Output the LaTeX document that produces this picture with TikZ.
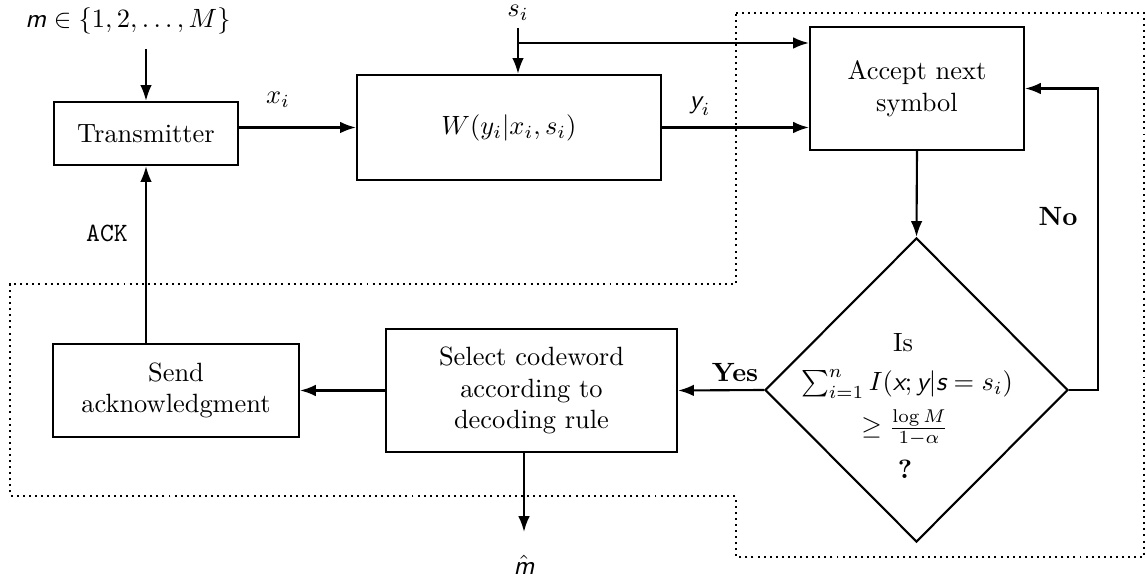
\documentclass[tikz,border=0pt]{standalone}
\usepackage{amsmath}
\usetikzlibrary{arrows.meta,shapes.geometric}
\newcommand\sfv[1]{\text{\sffamily\itshape #1}}
\begin{document}
\begin{tikzpicture}[x=0.3786pt,y=-0.3786pt,
  blk/.style={draw,thick,rectangle,align=center,inner sep=0pt},
  arr/.style={thick,-{Latex[length=6pt,width=4.4pt]}},
  region/.style={line width=0.75pt,dash pattern=on 0.75pt off 1.55pt},
  lbl/.style={inner sep=0pt}]
\useasboundingbox (0,0) rectangle (1146,582);
% dotted region
\draw[region] (736,13) -- (1144,13) -- (1144,557) -- (736,557) -- (736,496) -- (10,496) -- (10,284) -- (736,284) -- cycle;
% blocks
\node[blk,minimum width=69.7pt,minimum height=23.9pt] (tx) at (146,133.5) {Transmitter};
\node[blk,minimum width=115.1pt,minimum height=39.8pt] (w) at (509,127.5) {$W(y_i|x_i,s_i)$};
\node[blk,minimum width=81.0pt,minimum height=46.6pt] (acc) at (917,88.5) {Accept next\\symbol};
\node[draw,thick,diamond,minimum width=114.7pt,minimum height=115.1pt,inner sep=0pt] (d) at (916.5,390) {};
\node[lbl] (dis) at (903,343) {Is};
\node[lbl] (dsum) at (907,384) {$\sum_{i=1}^{n} I(\sfv{x};\sfv{y}|\sfv{s}=s_i)$};
\node[lbl] (dgeq) at (905,428) {$\geq\frac{\log M}{1-\alpha}$};
\node[lbl] (dq) at (905,469) {\textbf{?}};
\node[blk,minimum width=110.2pt,minimum height=46.6pt] (sel) at (531.5,390.5) {Select codeword\\according to\\decoding rule};
\node[blk,minimum width=93.1pt,minimum height=35.2pt] (snd) at (176,390.5) {Send\\acknowledgment};
% labels
\node[lbl] (mlab) at (128,21) {$\sfv{m}\in\{1,2,\ldots,M\}$};
\node[lbl] (slab) at (518,13) {$s_i$};
\node[lbl] (xlab) at (278,100) {$x_i$};
\node[lbl] (ylab) at (700,106) {$\sfv{y}_i$};
\node[lbl] (ack) at (107,233) {\texttt{ACK}};
\node[lbl] (yes) at (735,373) {\textbf{Yes}};
\node[lbl] (no) at (1058,217) {\textbf{No}};
\node[lbl] (mhat) at (524,565) {$\hat{\sfv{m}}$};
% coordinates
\coordinate (m0) at (146,49);
\coordinate (s0) at (518,28);
\coordinate (sj) at (518,43);
\coordinate (fb) at (1098,390);
\coordinate (mend) at (524,532);
% connectors
\draw[arr] (m0) -- (tx.north);
\draw[arr] (w.west -| tx.east) -- (w.west);
\draw[arr] (s0) -- (s0 |- w.north);
\draw[arr] (sj) -- (sj -| acc.west);
\draw[arr] (w.east) -- (w.east -| acc.west);
\draw[arr] (acc.south) -- (d.north);
\draw[arr] (d.east) -- (fb) |- (acc.east);
\draw[arr] (d.west) -- (sel.east);
\draw[arr] (sel.west) -- (snd.east);
\draw[arr] (tx.south |- snd.north) -- (tx.south);
\draw[arr] (sel.south -| mend) -- (mend);
\end{tikzpicture}
\end{document}
